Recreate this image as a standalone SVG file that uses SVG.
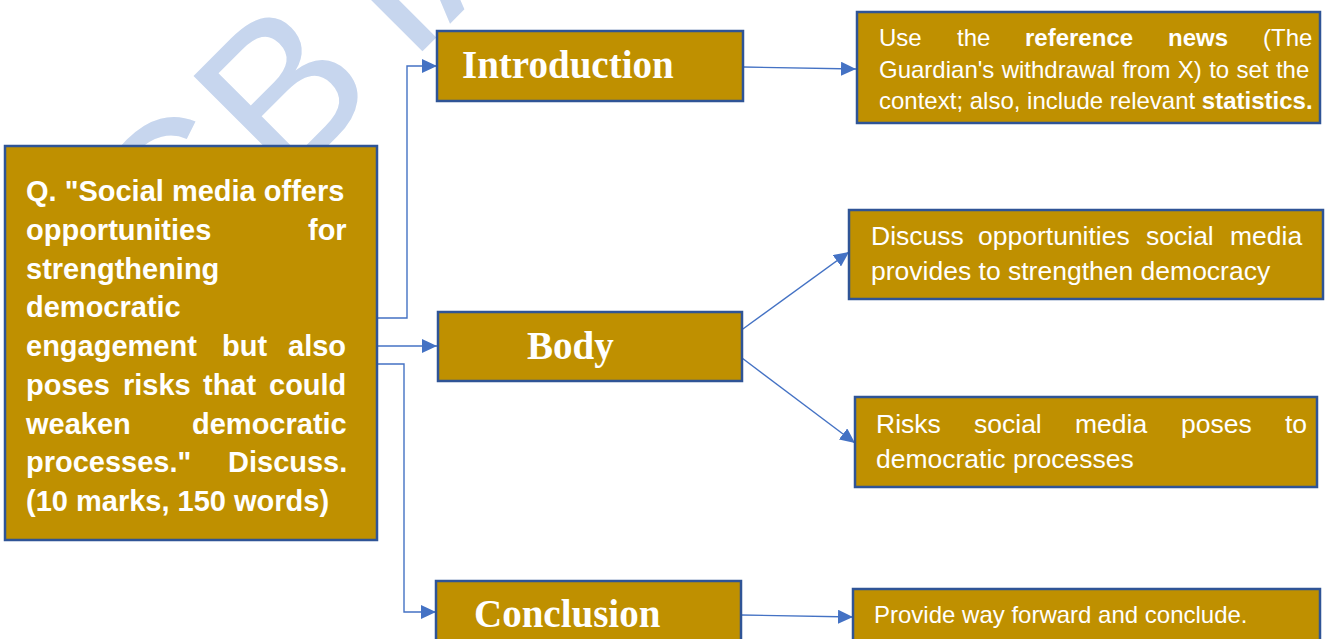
<svg xmlns="http://www.w3.org/2000/svg" width="1325" height="639" viewBox="0 0 1325 639">
<style>
.box{fill:#BF9000;stroke:#2F5496;stroke-width:2.5}
.wm{fill:#C7D6EE;font-family:"Liberation Sans",Arial,sans-serif;font-size:210px}
.q{fill:#fff;font-family:"Liberation Sans",Arial,sans-serif;font-size:29px;font-weight:bold}
.h{fill:#fff;font-family:"Liberation Serif","Times New Roman",serif;font-size:39px;font-weight:bold}
.t24{fill:#fff;font-family:"Liberation Sans",Arial,sans-serif;font-size:24px}
.t26{fill:#fff;font-family:"Liberation Sans",Arial,sans-serif;font-size:26.5px}
.b{font-weight:bold}
.conn path{fill:none;stroke:#4472C4;stroke-width:1.4;marker-end:url(#arr)}
</style>
<defs>
<marker id="arr" viewBox="0 0 15 14" refX="15" refY="7" markerWidth="15" markerHeight="14" markerUnits="userSpaceOnUse" orient="auto">
<path d="M0,0 L15,7 L0,14 z" fill="#4472C4"/>
</marker>
</defs>
<rect width="1325" height="639" fill="#fff"/>
<g id="watermark">
<text class="wm" transform="translate(173.2,300.5) rotate(-45)">C</text>
<text class="wm" transform="translate(283.5,190.2) rotate(-45)">B</text>
<text class="wm" transform="translate(408.7,65.1) rotate(-45)">I</text>
<text class="wm" transform="translate(449.7,24) rotate(-45)">A</text>
</g>
<g id="connectors" class="conn">
<path d="M377,318 H407 V66 H437"/>
<path d="M377,346 H437"/>
<path d="M377,364 H404 V612 H436"/>
<path d="M743,67 L856,69"/>
<path d="M736,334 L849,252"/>
<path d="M742,358 L855,443"/>
<path d="M741,615 L853,617"/>
</g>
<g id="question">
<rect class="box" x="5" y="146" width="372" height="394"/>
<text class="q">
<tspan x="26" y="201">Q. "Social media offers</tspan>
<tspan x="26" y="239.75">opportunities</tspan><tspan x="308" y="239.75">for</tspan>
<tspan x="26" y="278.5">strengthening</tspan>
<tspan x="26" y="317.25">democratic</tspan>
<tspan x="26" y="356">engagement</tspan><tspan x="222" y="356">but</tspan><tspan x="288" y="356">also</tspan>
<tspan x="26" y="394.75">poses</tspan><tspan x="123" y="394.75">risks</tspan><tspan x="203" y="394.75">that</tspan><tspan x="269" y="394.75">could</tspan>
<tspan x="26" y="433.5">weaken</tspan><tspan x="192" y="433.5">democratic</tspan>
<tspan x="26" y="472.25">processes."</tspan><tspan x="228" y="472.25">Discuss.</tspan>
<tspan x="26" y="511">(10 marks, 150 words)</tspan>
</text>
</g>
<g id="introduction">
<rect class="box" x="437" y="31" width="306" height="70"/>
<text class="h" x="462" y="78">Introduction</text>
</g>
<g id="body">
<rect class="box" x="438" y="312" width="304" height="69"/>
<text class="h" x="527" y="359">Body</text>
</g>
<g id="conclusion">
<rect class="box" x="436" y="581" width="305" height="70"/>
<text class="h" x="474" y="627">Conclusion</text>
</g>
<g id="intro-detail">
<rect class="box" x="857" y="12" width="463" height="111"/>
<text class="t24">
<tspan x="879" y="46">Use</tspan><tspan x="957" y="46">the</tspan><tspan x="1025" y="46" class="b">reference</tspan><tspan x="1168" y="46" class="b">news</tspan><tspan x="1263" y="46">(The</tspan>
<tspan x="879" y="78" word-spacing="0.7">Guardian's withdrawal from X) to set the</tspan>
<tspan x="879" y="109">context; also, include relevant <tspan class="b">statistics.</tspan></tspan>
</text>
</g>
<g id="opportunities">
<rect class="box" x="849" y="210" width="474" height="89"/>
<text class="t26">
<tspan x="871" y="245">Discuss</tspan><tspan x="978" y="245">opportunities</tspan><tspan x="1146" y="245">social</tspan><tspan x="1230" y="245">media</tspan>
<tspan x="871" y="280">provides to strengthen democracy</tspan>
</text>
</g>
<g id="risks">
<rect class="box" x="855" y="397" width="462" height="90"/>
<text class="t26">
<tspan x="876" y="433">Risks</tspan><tspan x="974" y="433">social</tspan><tspan x="1075" y="433">media</tspan><tspan x="1181" y="433">poses</tspan><tspan x="1285" y="433">to</tspan>
<tspan x="876" y="468">democratic processes</tspan>
</text>
</g>
<g id="way-forward">
<rect class="box" x="853" y="589" width="467" height="60"/>
<text class="t24" x="874" y="623">Provide way forward and conclude.</text>
</g>
</svg>
